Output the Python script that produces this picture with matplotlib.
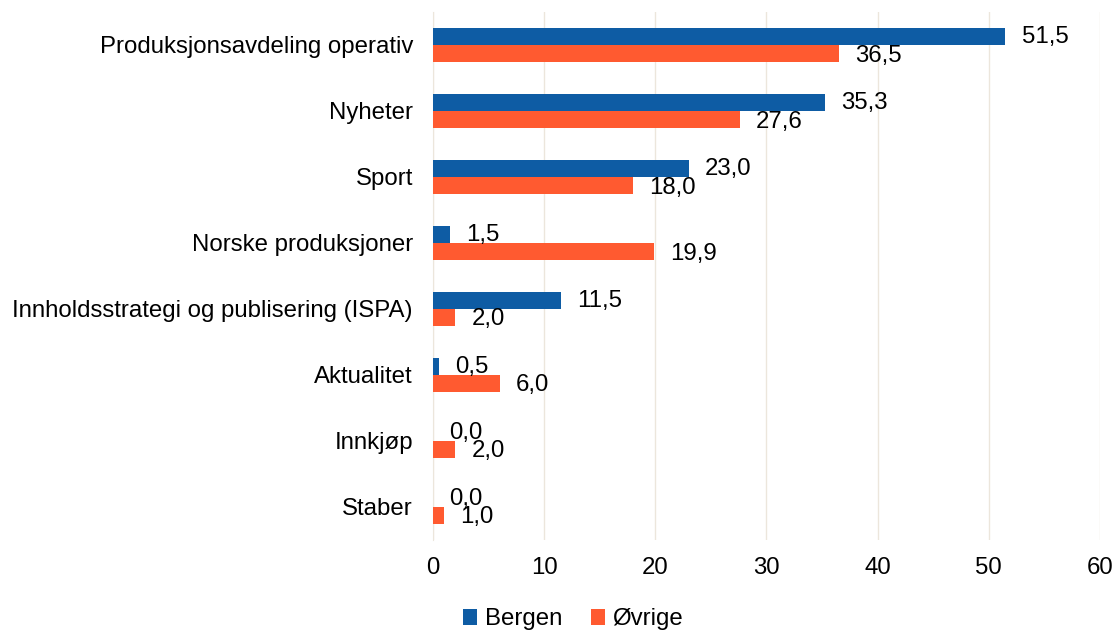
import matplotlib
matplotlib.use("Agg")
import matplotlib.pyplot as plt
import numpy as np

categories = ["Produksjonsavdeling operativ", "Nyheter", "Sport", "Norske produksjoner",
              "Innholdsstrategi og publisering (ISPA)", "Aktualitet", "Innkjøp", "Staber"]
bergen = [51.5, 35.3, 23.0, 1.5, 11.5, 0.5, 0.0, 0.0]
ovrige = [36.5, 27.6, 18.0, 19.9, 2.0, 6.0, 2.0, 1.0]

blue = "#0e5ca4"
orange = "#ff5a30"
fs = 17.3

plt.rcParams["font.family"] = ["Liberation Sans", "DejaVu Sans"]
fig = plt.figure(figsize=(11.17, 6.3), dpi=100)
ax = fig.add_axes([0.3877, 0.143, 0.597, 0.838])

y = np.arange(len(categories))
h = 0.26
ax.barh(y - h / 2, bergen, height=h, color=blue, label="Bergen", zorder=3)
ax.barh(y + h / 2, ovrige, height=h, color=orange, label="Øvrige", zorder=3)

# value labels, Excel-style with comma decimals (they overlap in the source too)
for i in range(len(categories)):
    ax.text(bergen[i] + 1.45, y[i] - h / 2 + 0.01, f"{bergen[i]:.1f}".replace(".", ","),
            va="center", ha="left", fontsize=fs, zorder=4)
    ax.text(ovrige[i] + 1.45, y[i] + h / 2 + 0.03, f"{ovrige[i]:.1f}".replace(".", ","),
            va="center", ha="left", fontsize=fs, zorder=4)

ax.set_xlim(0, 60)
ax.set_xticks(range(0, 61, 10))
ax.set_ylim(len(categories) - 0.5, -0.5)
ax.set_yticks(y)
ax.set_yticklabels(categories)
ax.tick_params(axis="both", length=0, labelsize=fs)
ax.tick_params(axis="y", pad=14.5)
ax.tick_params(axis="x", pad=12)
ax.grid(axis="x", color="#ece6dc", linewidth=1, zorder=0)
for s in ["top", "right", "bottom"]:
    ax.spines[s].set_visible(False)
ax.spines["left"].set_color("#ece6dc")

fig.legend(loc="lower center", bbox_to_anchor=(0.513, -0.035), ncol=2, frameon=False,
           fontsize=fs, handlelength=0.6, handleheight=0.6, handletextpad=0.3, columnspacing=1.2)

fig.savefig("out.png", dpi=100)
